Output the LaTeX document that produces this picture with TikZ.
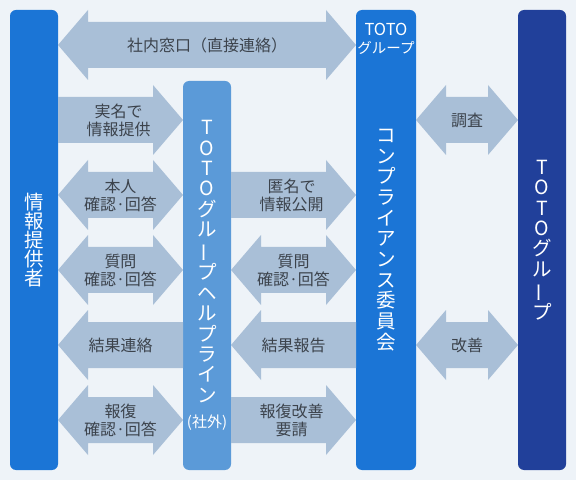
\documentclass[tikz,border=0pt]{standalone}
\usepackage{fontspec}
\setmainfont{Noto Sans CJK JP}
\usepackage{graphicx}
\usetikzlibrary{positioning, calc}
\definecolor{pagebg}{HTML}{EEF3F8}
\definecolor{mainblue}{HTML}{1B75D6}
\definecolor{lightblue}{HTML}{5B9AD8}
\definecolor{darkblue}{HTML}{21409A}
\definecolor{arrowgray}{HTML}{A9BFD7}
\definecolor{labelgray}{HTML}{3C434C}
\newcommand{\longvowel}{\rotatebox[origin=c]{90}{ー}}
% block arrows between two bars, at height #4
\newcommand{\blockboth}[5]{%
  \fill[block] let \p1=(#2.east), \p2=(#3.west) in
    (\x1,#4) -- (\x1+30,#4+35) -- (\x1+30,#4+23) -- (\x2-30,#4+23) -- (\x2-30,#4+35) -- (\x2,#4)
    -- (\x2-30,#4-35) -- (\x2-30,#4-23) -- (\x1+30,#4-23) -- (\x1+30,#4-35) -- cycle
    node[blocktext] (#1) at ({(\x1+\x2)/2},#4) {#5};}
\newcommand{\blockright}[5]{%
  \fill[block] let \p1=(#2.east), \p2=(#3.west) in
    (\x1,#4+23) -- (\x2-30,#4+23) -- (\x2-30,#4+35) -- (\x2,#4)
    -- (\x2-30,#4-35) -- (\x2-30,#4-23) -- (\x1,#4-23) -- cycle
    node[blocktext] (#1) at ({(\x1+\x2)/2-2},#4) {#5};}
\newcommand{\blockleft}[5]{%
  \fill[block] let \p1=(#2.east), \p2=(#3.west) in
    (\x2,#4+23) -- (\x1+30,#4+23) -- (\x1+30,#4+35) -- (\x1,#4)
    -- (\x1+30,#4-35) -- (\x1+30,#4-23) -- (\x2,#4-23) -- cycle
    node[blocktext] (#1) at ({(\x1+\x2)/2},#4) {#5};}

\begin{document}
\begin{tikzpicture}[x=1pt, y=1pt,
    bar/.style={rectangle, rounded corners=6pt, inner sep=0pt, outer sep=0pt, minimum width=48pt,
      minimum height=460pt, text=white, align=center, font=\fontsize{19.5}{20.4}\selectfont},
    block/.style={fill=arrowgray},
    blocktext/.style={text=labelgray, align=center, inner sep=0pt, font=\fontsize{16}{18}\selectfont}]
    \fill[pagebg] (0,0) rectangle (576,480);
    % the four bars
    \node[bar, fill=mainblue, font=\fontsize{19.5}{19}\selectfont] (info) at (34,240) {情\\報\\提\\供\\者};
    \node[bar, fill=lightblue, minimum height=389pt, right=125pt of info.south east, anchor=south west] (help)
      {T\\O\\T\\O\\グ\\ル\\\longvowel\\プ\\ヘ\\ル\\プ\\ラ\\イ\\ン\\[5pt]{\fontsize{15}{15}\selectfont (社外)}};
    \node[bar, fill=mainblue, minimum width=60pt, font=\fontsize{19.5}{20.7}\selectfont,
      right=125pt of help.south east, anchor=south west] (comp)
      {コ\\ン\\プ\\ラ\\イ\\ア\\ン\\ス\\委\\員\\会};
    \node[text=white, align=center, inner sep=0pt, font=\fontsize{14.5}{18}\selectfont]
      (comptitle) at ([yshift=-29pt]comp.north) {{\fontsize{16.5}{18}\selectfont TOTO}\\グループ};
    \node[bar, fill=darkblue, right=102pt of comp.south east, anchor=south west] (group)
      {T\\O\\T\\O\\グ\\ル\\\longvowel\\プ};
    % arrows
    \blockboth{direct}{info}{comp}{435}{社内窓口（直接連絡）}
    \blockright{realname}{info}{help}{360}{実名で\\情報提供}
    \blockboth{identity}{info}{help}{285}{本人\\確認·回答}
    \blockboth{question}{info}{help}{210}{質問\\確認·回答}
    \blockleft{result}{info}{help}{135}{結果連絡}
    \blockboth{retaliation}{info}{help}{60}{報復\\確認·回答}
    \blockright{anonymous}{help}{comp}{285}{匿名で\\情報公開}
    \blockboth{question2}{help}{comp}{210}{質問\\確認·回答}
    \blockleft{report}{help}{comp}{135}{結果報告}
    \blockright{request}{help}{comp}{60}{報復改善\\要請}
    \blockboth{survey}{comp}{group}{360}{調査}
    \blockboth{improve}{comp}{group}{135}{改善}
\end{tikzpicture}
\end{document}
